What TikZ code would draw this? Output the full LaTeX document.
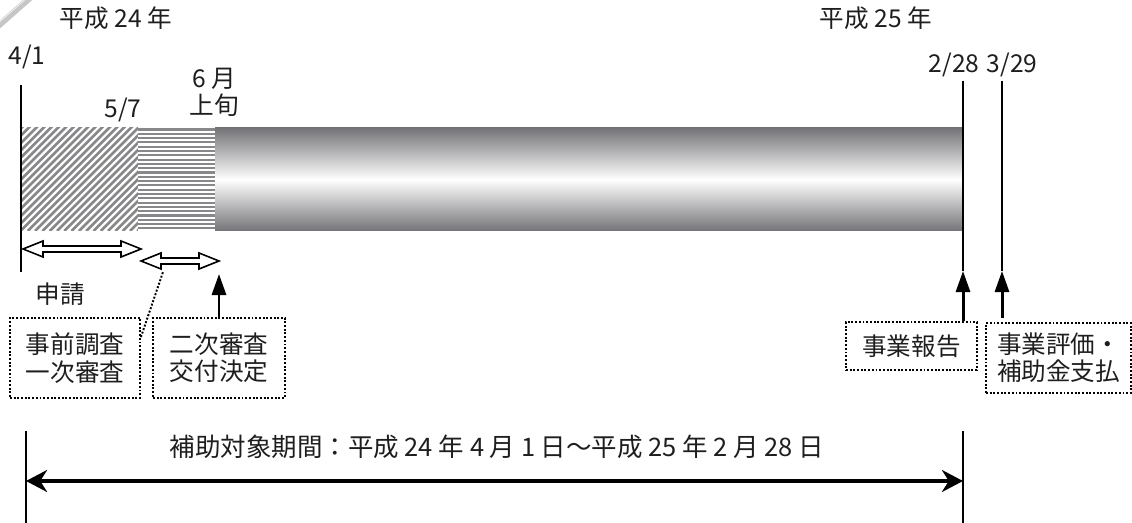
\documentclass[tikz,border=0pt]{standalone}
\usepackage{fontspec}
\setmainfont{Noto Sans CJK JP}
\usetikzlibrary{arrows.meta}
\definecolor{barGray}{RGB}{116,116,120}
\definecolor{hatchGray}{RGB}{136,136,138}
\definecolor{textGray}{RGB}{30,30,30}
\tikzset{
  txt/.style={font=\fontsize{14}{15.5}\selectfont, text=textGray, inner sep=0pt, align=center},
  dotbox/.style={txt, draw=black, densely dotted, line width=1.1pt},
  tick/.style={line width=1.1pt},
  hatch/.style={line width=1.5pt, hatchGray},
  uparrow/.style={-{Triangle[length=12pt,width=8pt]}, line width=1.7pt},
  spanline/.style={line width=0.9pt, fill=white, line join=miter},
}
% hollow double arrow: from x=#1 to x=#2 at height #3
\newcommand{\spanarrow}[3]{
  \draw[spanline] (#1,#3) -- (#1+20,#3-8) -- (#1+20,#3-3) -- (#2-20,#3-3) -- (#2-20,#3-8)
    -- (#2,#3) -- (#2-20,#3+8) -- (#2-20,#3+3) -- (#1+20,#3+3) -- (#1+20,#3+8) -- cycle;
}

\begin{document}
\begin{tikzpicture}[x=0.02cm,y=-0.02cm]
            \useasboundingbox (0,0) rectangle (1132,523);
            % corner piece
            \draw[line width=3.5pt, gray!45] (-3,27) -- (31,-3);
            \draw[line width=0.6pt, gray!15] (-3,24) -- (28,-3);

            % the bar
            \shade[top color=barGray, bottom color=barGray, middle color=white] (215,128) rectangle (963,231);
            \begin{scope}
                \clip (21,128) rectangle (138,231);
                \fill[white] (21,128) rectangle (138,231);
                \foreach \i in {0,...,32}
                    \draw[hatch] (21+7.3*\i-110,231) -- ++(110,-110);
            \end{scope}
            \begin{scope}
                \clip (138,128) rectangle (215,231);
                \fill[white] (138,128) rectangle (215,231);
                \foreach \i in {0,...,23}
                    \draw[line width=1.2pt, hatchGray] (138,129.5+4.3*\i) -- (215,129.5+4.3*\i);
            \end{scope}

            % date marks
            \coordinate (d41) at (21,272);
            \coordinate (d228) at (963,271);
            \coordinate (d329) at (1002,271);
            \draw[tick] (21,85) -- (d41);
            \draw[tick] (963,81) -- (d228);
            \draw[tick] (1002,81) -- (d329);

            \node[txt] (y24) at (116,18) {平成 24 年};
            \node[txt] (y25) at (876,18) {平成 25 年};
            \node[txt] (t41) at (27,57) {4/1};
            \node[txt] (t57) at (123,110) {5/7};
            \node[txt] (t6) at (214,92) {6 月\\上旬};
            \node[txt] (t228) at (954,65) {2/28};
            \node[txt] (t329) at (1012,65) {3/29};

            \spanarrow{23}{141}{249}
            \spanarrow{141}{219}{261}
            \coordinate (s2) at (219,274);
            \coordinate (s1) at (163,272);

            \node[txt] (shinsei) at (60,294) {申請};

            \node[dotbox, minimum width=2.6cm, minimum height=1.6cm] (box1) at (75,358) {事前調査\\一次審査};
            \node[dotbox, minimum width=2.64cm, minimum height=1.6cm] (box2) at (219,358) {二次審査\\交付決定};
            \node[dotbox, minimum width=2.62cm, minimum height=0.96cm] (box3) at (911.5,346) {事業報告};
            \node[dotbox, minimum width=2.9cm, minimum height=1.4cm] (box4) at (1058.5,358) {事業評価・\\補助金支払};

            \draw[densely dotted, line width=1.1pt] (box1.east |- 0,337) -- (s1);
            \draw[uparrow] (box2.north) -- (s2);
            \draw[uparrow] (box3.north -| d228) -- (d228);
            \draw[uparrow] (1002,318) -- (d329);

            % subsidy period
            \coordinate (pL) at (26,481);
            \coordinate (pR) at (963,481);
            \draw[tick] (26,431) -- (26,523);
            \draw[tick] (963,431) -- (963,523);
            \draw[line width=2.3pt, {Stealth[length=12pt,width=12.5pt]}-{Stealth[length=12pt,width=12.5pt]}] (pL) -- (pR);
            \node[txt, font=\fontsize{14.5}{16}\selectfont] (period) at (497,447) {補助対象期間：平成 24 年 4 月 1 日～平成 25 年 2 月 28 日};
\end{tikzpicture}
\end{document}
